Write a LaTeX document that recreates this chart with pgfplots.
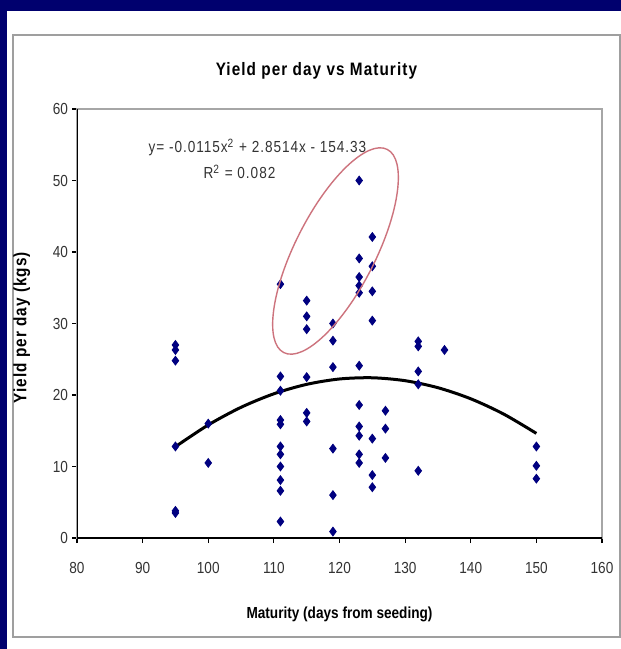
\documentclass[border=0pt]{standalone}
\usepackage{pgfplots}
\pgfplotsset{compat=1.18}
\usepackage{fontspec}
\setmainfont{Liberation Sans}[FakeStretch=0.85]
\newfontfamily\spaced{Liberation Sans}[FakeStretch=0.85, LetterSpace=6]
\definecolor{navybg}{RGB}{0,0,110}
\definecolor{mk}{RGB}{0,0,128}
\definecolor{ell}{RGB}{205,115,125}
\begin{document}
\begin{tikzpicture}
% background (1px = 0.5pt)
\fill[navybg] (0pt,0pt) rectangle (310.5pt,324.5pt);
\fill[white] (3.5pt,0pt) rectangle (310.5pt,319pt);
\draw[gray!75, line width=1pt] (6.5pt,6pt) rectangle (310pt,307pt);
\begin{axis}[
  at={(38.5pt,55.5pt)}, anchor=south west,
  scale only axis, width=262.5pt, height=214.5pt,
  xmin=80, xmax=160, ymin=0, ymax=60,
  xtick={80,90,...,160}, ytick={0,10,...,60},
  xtick pos=bottom, ytick pos=left,
  tick align=outside, major tick length=2.5pt,
  tick style={black, line width=0.6pt},
  axis line style={draw=gray!70, line width=0.8pt},
  /pgf/number format/assume math mode=true,
  tick label style={font=\fontsize{8}{9}\selectfont, text=black!80},
  xticklabel style={yshift=-6pt},
  yticklabel style={xshift=1.5pt},
  title={\spaced\bfseries Yield per day vs Maturity},
  title style={at={(0.456,1.061)}, anchor=center, font=\fontsize{9}{10}\selectfont},
  xlabel={\bfseries Maturity (days from seeding)},
  xlabel style={at={(0.5,-0.177)}, anchor=center, font=\fontsize{8}{9}\selectfont},
  ylabel={\spaced\bfseries Yield per day (kgs)},
  ylabel style={at={(-0.105,0.49)}, anchor=center, rotate=0, font=\fontsize{9}{10}\selectfont},
]
\draw[black, line width=0.7pt] (axis cs:80,60) -- (axis cs:80,0) -- (axis cs:160,0);
\addplot[black, line width=1.5pt, smooth] coordinates {
 (95,12.77) (100,15.81) (105,18.28) (110,20.17) (115,21.49) (120,22.24)
 (125,22.41) (130,22.00) (135,21.02) (140,19.47) (145,17.34) (150,14.63)
};
\addplot[only marks, mark=diamond*, mark size=2.2pt, mk, mark options={draw=mk, fill=mk}] coordinates {
 (95,27.0) (95,26.3) (95,24.8) (95,12.8) (95,3.8) (95,3.5)
 (100,16.0) (100,10.5)
 (111,35.5) (111,22.6) (111,20.6) (111,16.5) (111,15.9) (111,12.8) (111,11.7) (111,10.0) (111,8.1) (111,6.6) (111,2.3)
 (115,33.2) (115,31.0) (115,29.2) (115,22.5) (115,17.5) (115,16.3)
 (119,30.0) (119,27.6) (119,23.9) (119,12.5) (119,6.0) (119,0.9)
 (123,50.0) (123,39.1) (123,36.5) (123,35.3) (123,34.3) (123,24.1) (123,18.6) (123,15.6) (123,14.3) (123,11.7) (123,10.5)
 (125,42.1) (125,38.0) (125,34.5) (125,30.4) (125,13.9) (125,8.8) (125,7.1)
 (127,17.8) (127,15.3) (127,11.2)
 (132,27.5) (132,26.8) (132,23.3) (132,21.5) (132,9.4)
 (136,26.3)
 (150,12.8) (150,10.1) (150,8.3)
};
\node[font=\spaced\fontsize{8}{9}\selectfont, text=black!80, anchor=center] at (axis cs:107.5,54.6) {y= -0.0115x\textsuperscript{2} + 2.8514x - 154.33};
\node[font=\spaced\fontsize{8}{9}\selectfont, text=black!80, anchor=east] at (axis cs:111.3,51.2) {R\textsuperscript{2} = 0.082};
\end{axis}
\begin{scope}[shift={(167.75pt,199pt)}, rotate=63]
\draw[ell, line width=0.7pt] (0,0) ellipse [x radius=57pt, y radius=20pt];
\end{scope}
\end{tikzpicture}
\end{document}
